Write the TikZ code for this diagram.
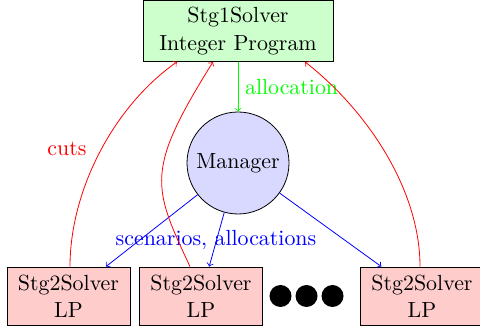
\documentclass[tikz,border=0pt]{standalone}
\usetikzlibrary{calc}
\begin{document}
\begin{tikzpicture}[x=1pt,y=1pt, font=\fontsize{10.95}{13.6}\selectfont,
  topbox/.style={draw, fill=green!20, align=center, minimum width=95pt, minimum height=30.5pt, inner sep=2pt},
  subbox/.style={draw, fill=red!20, align=center, minimum width=61.5pt, minimum height=29pt, inner sep=2pt},
  mgr/.style={draw, circle, fill=blue!15, minimum size=51pt, inner sep=0pt},
  dot/.style={circle, fill=black, minimum size=11pt, inner sep=0pt},
  cutarrow/.style={->, red},
  scenarrow/.style={->, blue},
  allocarrow/.style={->, green}]
\useasboundingbox (0,0) rectangle (240,165);
\node[topbox] (top) at (119,149.5) {Stg1Solver\\Integer Program};
\node[mgr] (man) at (119,83.5) {Manager};
\node[subbox] (b1) at (34.25,17) {Stg2Solver\\LP};
\node[subbox] (b2) at (100.5,17) {Stg2Solver\\LP};
\node[subbox] (b3) at (211,17) {Stg2Solver\\LP};
\node[dot] (d1) at (140.25,17) {};
\node[dot] (d2) at (153.25,17) {};
\node[dot] (d3) at (166.25,17) {};
\draw[allocarrow] (top) -- node[right, text=green] (alloclab) {allocation} (man);
\draw[scenarrow] (man) -- (b1);
\draw[scenarrow] (man) -- (b2);
\draw[scenarrow] (man) -- (b3);
\node[text=blue] (scenlab) at (108,45) {scenarios, allocations};
\coordinate (c1s) at ([xshift=0.75pt]b1.north);
\coordinate (c1e) at ([xshift=-30.5pt]top.south);
\coordinate (c2s) at ([xshift=-5.5pt]b2.north);
\coordinate (c2e) at ([xshift=-12.5pt]top.south);
\coordinate (c3s) at ([xshift=-1pt]b3.north);
\coordinate (c3e) at ([xshift=33.5pt]top.south);
\draw[cutarrow] (c1s) to[out=90, in=-145, looseness=0.85] (c1e);
\draw[cutarrow] (c2s) to[out=115, in=-122, out looseness=1.1, in looseness=1.6] (c2e);
\draw[cutarrow] (c3s) to[out=90, in=-38, looseness=0.85] (c3e);
\node[text=red] (cutlab) at (33.5,90.5) {cuts};
\end{tikzpicture}
\end{document}
